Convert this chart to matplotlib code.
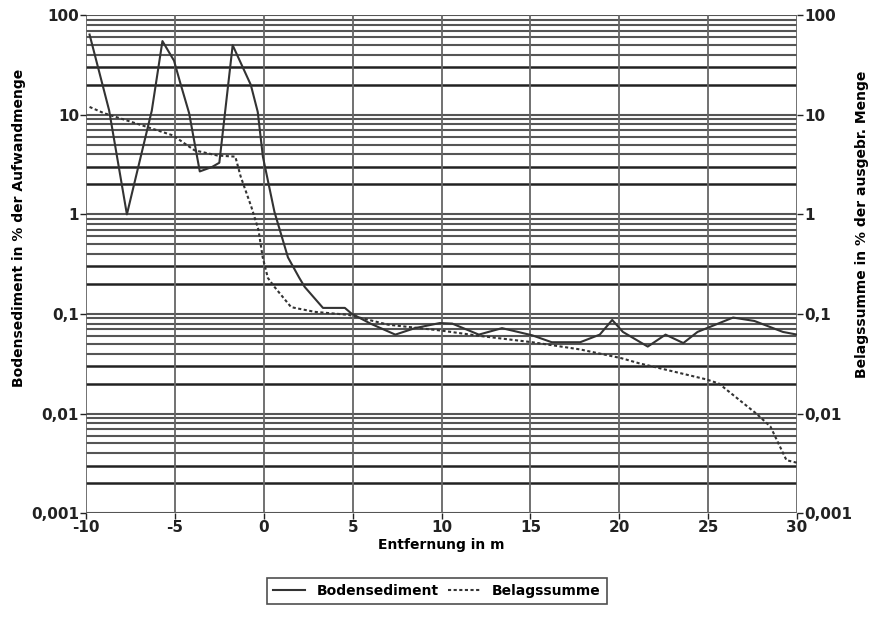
import numpy as np
import matplotlib
matplotlib.use("Agg")
import matplotlib.pyplot as plt

plt.rcParams['font.family'] = ['DejaVu Sans']
plt.rcParams['font.weight'] = 'bold'

# Bodensediment (durchgezogene Linie)
sed_x = [-9.8, -8.7, -7.7, -6.3, -5.7, -5.05, -4.7, -4.2, -3.6, -2.9, -2.5, -1.75,
         -0.73, -0.34, -0.05, 0.6, 1.36, 2.0, 2.3, 3.33, 4.56, 4.93, 6.0, 7.4, 8.5,
         9.9, 10.6, 12.1, 13.4, 15.1, 16.2, 17.8, 18.9, 19.6, 20.2, 21.6, 22.6,
         23.6, 24.4, 26.4, 27.6, 29.2, 30.0]
sed_y = [64, 11.1, 1.0, 11, 55, 35, 21, 10.4, 2.7, 3.0, 3.3, 50,
         20, 10.7, 3.8, 1.06, 0.37, 0.23, 0.187, 0.115, 0.115, 0.101, 0.08, 0.062, 0.072,
         0.081, 0.08, 0.062, 0.072, 0.061, 0.052, 0.052, 0.062, 0.087, 0.066, 0.047, 0.062,
         0.051, 0.066, 0.092, 0.085, 0.066, 0.062]

# Belagssumme (gestrichelte Linie)
bel_x = [-9.8, -9.0, -7.0, -5.1, -3.9, -2.6, -1.6, -1.3, -0.7, -0.3, -0.06, 0.23, 0.6,
         1.54, 2.86, 4.75, 7.0, 10.0, 12.2, 15.1, 17.8, 20.1, 21.1, 24.9, 25.6, 27.7,
         28.5, 29.4, 30.0]
bel_y = [12, 10.4, 8.0, 6.2, 4.4, 3.9, 3.8, 2.4, 1.19, 0.7, 0.37, 0.23, 0.187,
         0.117, 0.105, 0.098, 0.078, 0.068, 0.06, 0.052, 0.044, 0.036, 0.032, 0.022, 0.020, 0.010,
         0.0074, 0.0034, 0.0032]

x_ticks = [-10, -5, 0, 5, 10, 15, 20, 25, 30]
y_ticks = [0.001, 0.01, 0.1, 1, 10, 100]
y_labels = ['0,001', '0,01', '0,1', '1', '10', '100']

fig = plt.figure(figsize=(8.74, 6.35), dpi=100)
ax = fig.add_axes([0.0984, 0.192, 0.8136, 0.784])
ax.set_yscale('log')
ax.set_xlim(-10, 30)
ax.set_ylim(0.001, 100)

# Gitter: horizontale Linien bei 1..9 je Dekade
for dec in [0.001, 0.01, 0.1, 1, 10]:
    for m in range(1, 10):
        if m in (2, 3):
            ax.axhline(m * dec, color='#222222', lw=1.8, zorder=1)
        else:
            ax.axhline(m * dec, color='#555555', lw=1.5, zorder=1)
ax.axhline(100, color='#555555', lw=1.5, zorder=1)
for xv in x_ticks:
    ax.axvline(xv, color='#666666', lw=1.3, zorder=1)

ax.plot(sed_x, sed_y, color='#333333', lw=1.5, zorder=3, label='Bodensediment')
ax.plot(bel_x, bel_y, color='#333333', lw=1.5, ls=(0, (1.5, 1.2)), zorder=3,
        label='Belagssumme')

ax.set_xticks(x_ticks)
ax.set_xticklabels([str(v) for v in x_ticks], fontsize=11, fontweight='bold')
ax.set_yticks(y_ticks)
ax.set_yticklabels(y_labels, fontsize=11, fontweight='bold')
ax.yaxis.set_minor_locator(matplotlib.ticker.NullLocator())
ax.tick_params(axis='both', length=4, width=1, pad=1, colors='#222222')
for s in ax.spines.values():
    s.set_visible(False)

ax.set_xlabel('Entfernung in m', fontsize=10, fontweight='bold', labelpad=2)
ax.set_ylabel('Bodensediment in % der Aufwandmenge', fontsize=10, fontweight='bold')
ax.yaxis.set_label_coords(-0.084, 0.572)

ax2 = ax.twinx()
ax2.set_yscale('log')
ax2.set_ylim(0.001, 100)
ax2.set_yticks(y_ticks)
ax2.set_yticklabels(y_labels, fontsize=11, fontweight='bold')
ax2.yaxis.set_minor_locator(matplotlib.ticker.NullLocator())
ax2.tick_params(axis='y', length=4, width=1, pad=1, colors='#222222')
for s in ax2.spines.values():
    s.set_visible(False)
ax2.set_ylabel('Belagssumme in % der ausgebr. Menge', fontsize=10, fontweight='bold')
ax2.yaxis.set_label_coords(1.082, 0.58)

leg = fig.legend(loc='center left', bbox_to_anchor=(0.297, 0.069), ncol=2, frameon=True,
                 fancybox=False, edgecolor='#222222', fontsize=10, handlelength=2.3,
                 columnspacing=0.6, borderpad=0.45, handletextpad=0.9)
leg.get_frame().set_linewidth(1.2)
for t in leg.get_texts():
    t.set_fontweight('bold')

fig.savefig('out.png', dpi=100)
